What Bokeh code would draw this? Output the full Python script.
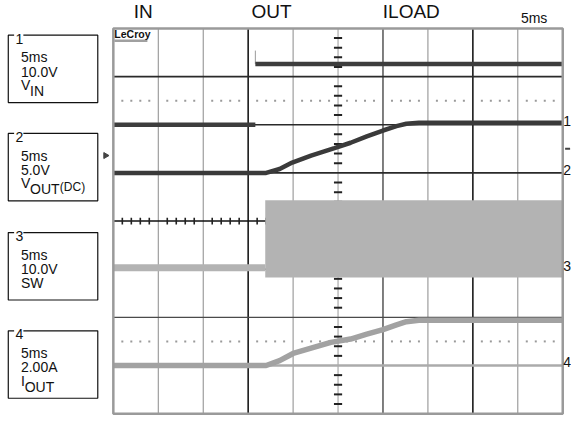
import numpy as np
from bokeh.plotting import figure
from bokeh.models import Range1d
from bokeh.core.properties import value
from bokeh.embed import file_html
from bokeh.resources import INLINE

# ---------------- data ----------------
ms_per_div = 5.0
x_divs = 10
y_divs = 8

ch_names = ["1", "2", "3", "4"]
ch_per_div = [10.0, 5.0, 10.0, 2.0]      # units per division
ch_ground = [6, 5, 3, 1]                 # ground level (divisions from bottom)
ch_timebase = ["5ms", "5ms", "5ms", "5ms"]
ch_scale_label = ["10.0V", "5.0V", "10.0V", "2.00A"]
ch_sig_main = ["V", "V", "SW", "I"]
ch_sig_sub = ["IN", "OUT", "", "OUT"]
ch_sig_extra = ["", "(DC)", "", ""]

title_subs = ["IN", "OUT", "ILOAD"]
timebase_text = "5ms"

# channel 1: V_IN (V)
vin_t = [0.0, 15.8, np.nan, 15.8, 50.0]
vin_v = [0.0, 0.0, np.nan, 12.6, 12.6]
vin_spike_t = [15.8, 15.8]
vin_spike_v = [12.6, 15.4]

# channel 2: V_OUT (V)
vout_t = [0.0, 17.0, 18.5, 19.9, 22.0, 24.6, 26.4, 28.2, 30.0, 31.5, 32.6, 34.0, 50.0]
vout_v = [0.0, 0.0, 0.4, 1.07, 1.8, 2.57, 3.13, 3.8, 4.4, 4.85, 5.1, 5.2, 5.2]

# channel 3: SW (V)
sw_low_t = [0.0, 16.9]
sw_low_v = [0.3, 0.3]
sw_band_t = [16.9, 50.0]
sw_band_hi = [14.3, 14.3]
sw_band_lo = [-1.7, -1.7]

# channel 4: I_OUT (A)
iout_t = [0.0, 17.0, 18.5, 20.0, 22.0, 24.2, 26.4, 28.2, 30.0, 31.5, 32.6, 34.0, 50.0]
iout_a = [0.0, 0.0, 0.2, 0.5, 0.72, 0.96, 1.1, 1.3, 1.49, 1.69, 1.82, 1.88, 1.88]

# ---------------- layout (reference pixel space) ----------------
PX0, PX1 = 0, 587
PY_TOP, PY_BOT = 0, 433
SCR_L, SCR_T = 116.0, 29.0
DIV_W, DIV_H = 46.2, 50.0
SCR_B = SCR_T + y_divs * DIV_H
W, H = 571, 417
FONT = value("Liberation Sans")


def px_to_ms(x):
    return (x - SCR_L) / DIV_W * ms_per_div


def py_to_div(y):
    return (SCR_B - y) / DIV_H


p = figure(width=W, height=H, x_range=Range1d(PX0, PX1), y_range=Range1d(PY_BOT, PY_TOP),
           output_backend="svg", toolbar_location=None, min_border=0,
           x_axis_type=None, y_axis_type=None)
p.grid.visible = False
p.outline_line_color = None
p.background_fill_color = "white"
p.border_fill_color = "white"

div_lo, div_hi = py_to_div(PY_BOT), py_to_div(PY_TOP)
p.extra_x_ranges = {"ms": Range1d(px_to_ms(PX0), px_to_ms(PX1))}
yr = {"div": Range1d(div_lo, div_hi)}
for name, s, g in zip(ch_names, ch_per_div, ch_ground):
    yr["ch" + name] = Range1d((div_lo - g) * s, (div_hi - g) * s)
p.extra_y_ranges = yr

t_end = x_divs * ms_per_div

# ---------------- graticule ----------------
vx = [i * ms_per_div for i in range(1, x_divs)]
vcol = ["#8a8a8a", "#8a8a8a", "#1a1a1a", "#8a8a8a", "#9a9a9a", "#3a3a3a", "#8a8a8a", "#1a1a1a", "#8a8a8a"]
vwid = [1, 1, 1.6, 1, 1, 1.3, 1, 1.6, 1]
p.segment(x0=vx, y0=[0] * len(vx), x1=vx, y1=[y_divs] * len(vx), line_color=vcol, line_width=vwid,
          x_range_name="ms", y_range_name="div")
hy = list(range(1, y_divs))
hcol = ["#888888", "#4a4a4a", "#555555", "#111111", "#2a2a2a", "#2a2a2a", "#2a2a2a"]
hwid = [1, 1.2, 1.2, 1.6, 1.6, 1.6, 1.6]
p.segment(x0=[0] * len(hy), y0=hy, x1=[t_end] * len(hy), y1=hy, line_color=hcol, line_width=hwid,
          x_range_name="ms", y_range_name="div")

# minor ticks on the centre axes
minor_t = [k * ms_per_div / 5 for k in range(1, x_divs * 5) if k % 5 != 0]
minor_d = [k / 5 for k in range(1, y_divs * 5) if k % 5 != 0]
cx = t_end / 2
cy = y_divs / 2
htl = 4.2 / DIV_W * ms_per_div
p.segment(x0=[cx - htl] * len(minor_d), y0=minor_d, x1=[cx + htl] * len(minor_d), y1=minor_d,
          line_color="#222222", line_width=2, x_range_name="ms", y_range_name="div")
p.segment(x0=minor_t, y0=[cy - 0.07] * len(minor_t), x1=minor_t, y1=[cy + 0.07] * len(minor_t),
          line_color="#222222", line_width=1.6, x_range_name="ms", y_range_name="div")
# dotted quarter lines
for dy in (1.5, 6.5):
    p.scatter(x=minor_t, y=[dy] * len(minor_t), marker="square", size=2, line_color=None,
              fill_color="#9a9a9a", x_range_name="ms", y_range_name="div")

# ---------------- traces ----------------
# SW band (switching)
p.varea(x=sw_band_t, y1=sw_band_lo, y2=sw_band_hi, fill_color="#b3b3b3", x_range_name="ms", y_range_name="ch3")
p.line(sw_low_t, sw_low_v, line_color="#b3b3b3", line_width=7, x_range_name="ms", y_range_name="ch3")

# channel 4 ground reference + I_OUT
p.line([0, t_end], [0, 0], line_color="#ababab", line_width=2.5, x_range_name="ms", y_range_name="ch4")
p.line(iout_t, iout_a, line_color="#a2a2a2", line_width=5.5, x_range_name="ms", y_range_name="ch4")

# V_OUT
p.line(vout_t, vout_v, line_color="#3a3a3a", line_width=4.5, x_range_name="ms", y_range_name="ch2")

# V_IN
p.line(vin_spike_t, vin_spike_v, line_color="#9a9a9a", line_width=1, x_range_name="ms", y_range_name="ch1")
p.line(vin_t, vin_v, line_color="#3d3d3d", line_width=4.5, x_range_name="ms", y_range_name="ch1")

# screen border
p.quad(left=[0], right=[t_end], bottom=[0], top=[y_divs], fill_color=None, line_color="#9a9a9a",
       line_width=2.5, x_range_name="ms", y_range_name="div")

# markers
p.scatter(x=[px_to_ms(108)], y=[py_to_div(161)], marker="triangle", angle=-np.pi / 2, size=6,
          fill_color="#444444", line_color="#444444", x_range_name="ms", y_range_name="div")
p.scatter(x=[px_to_ms(583)], y=[py_to_div(154)], marker="dash", size=5, line_color="#444444",
          line_width=2, x_range_name="ms", y_range_name="div")

# channel ground labels at right
p.text(x=[px_to_ms(586.5)] * 4, y=[g + 0.07 for g in ch_ground], text=ch_names, text_font=FONT,
       text_font_size="14px", text_color="#111111", text_baseline="alphabetic", text_align="right",
       x_range_name="ms", y_range_name="div")

# LeCroy logo
p.quad(left=[117], right=[151], top=[40.5], bottom=[43], fill_color="#a0a0a0", line_color=None)
p.text(x=[117], y=[35], text=["LeCroy"], text_font=FONT, text_font_style="bold",
       text_font_size="10.5px", text_color="#111111", text_baseline="middle", text_align="left")

# ---------------- text outside the screen ----------------
p.text(x=[137, 258, 393], y=[0.5, 0.5, 0.5], text=title_subs, text_font=FONT, text_font_size="19px",
       text_color="#111111", text_baseline="top", text_align="left")
p.text(x=[535], y=[18], text=[timebase_text], text_font=FONT, text_font_size="14px",
       text_color="#111111", text_baseline="middle", text_align="left")

box_top = [36, 138, 241, 343]
box_h = 70
p.quad(left=[8] * 4, right=[100] * 4, top=box_top, bottom=[t + box_h for t in box_top],
       fill_color=None, line_color="#111111", line_width=1.2)
p.quad(left=[14] * 4, right=[23.5] * 4, top=[t - 3 for t in box_top], bottom=[t + 3 for t in box_top],
       fill_color="white", line_color=None)
p.text(x=[15.5] * 4, y=[t + 3.5 for t in box_top], text=ch_names, text_font=FONT, text_font_size="14px",
       text_color="#111111", text_baseline="middle", text_align="left")
p.text(x=[21] * 4, y=[t + 23 for t in box_top], text=ch_timebase, text_font=FONT, text_font_size="14px",
       text_color="#111111", text_baseline="middle", text_align="left")
p.text(x=[21] * 4, y=[t + 38 for t in box_top], text=ch_scale_label, text_font=FONT, text_font_size="14px",
       text_color="#111111", text_baseline="middle", text_align="left")
p.text(x=[21] * 4, y=[t + 52 for t in box_top], text=ch_sig_main, text_font=FONT, text_font_size="14px",
       text_color="#111111", text_baseline="middle", text_align="left")
sub_x = [21 + (9.4 if m == "V" else 3.9) for m in ch_sig_main]
p.text(x=sub_x, y=[t + 58 for t in box_top], text=ch_sig_sub, text_font=FONT, text_font_size="14px",
       text_color="#111111", text_baseline="middle", text_align="left")
p.text(x=[61] * 4, y=[t + 56 for t in box_top], text=ch_sig_extra, text_font=FONT, text_font_size="12px",
       text_color="#111111", text_baseline="middle", text_align="left")

open("out.html", "w").write(file_html(p, INLINE))
